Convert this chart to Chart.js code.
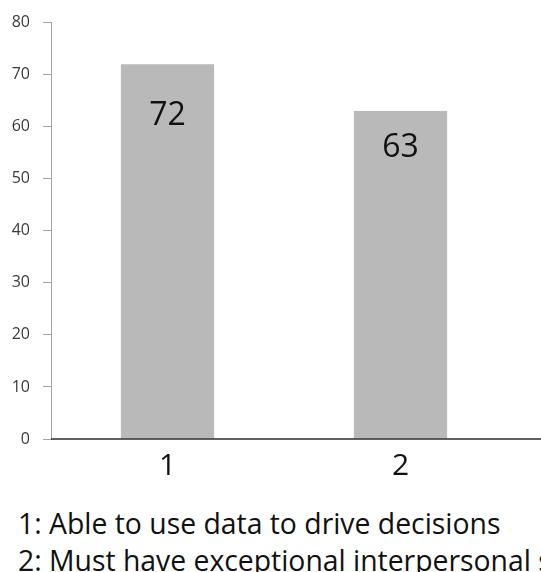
<!DOCTYPE html>
<html>
<head>
<meta charset="utf-8">
<script src="https://cdn.jsdelivr.net/npm/chart.js@4/dist/chart.umd.min.js"></script>
<style>
  html, body { margin: 0; padding: 0; background: #fff; }
  #wrap { position: relative; width: 541px; height: 572px; overflow: hidden; }
  #chart { position: absolute; left: 0; top: 0; }
  .note {
    position: absolute; left: 18px; white-space: nowrap;
    font-family: "Open Sans", sans-serif; font-size: 30px; line-height: 37px;
    color: #111; transform: scaleX(0.945); transform-origin: left top;
  }
</style>
</head>
<body>
<div id="wrap">
  <canvas id="chart" width="541" height="490"></canvas>
  <div class="note" id="n1" style="top:504px"></div>
  <div class="note" id="n2" style="top:541px"></div>
</div>
<script>
// Categories and values
const categories = ["1", "2"];
const values = [72, 63];
const yTicks = [0, 10, 20, 30, 40, 50, 60, 70, 80];
const notes = [
  "1: Able to use data to drive decisions",
  "2: Must have exceptional interpersonal skills"
];

document.getElementById("n1").textContent = notes[0];
document.getElementById("n2").textContent = notes[1];

const FONT = '"Open Sans", sans-serif';

// Value labels drawn inside each bar, plus the baseline running to the edge
const barLabels = {
  id: "barLabels",
  afterDatasetsDraw(chart, args, opts) {
    const ctx = chart.ctx;
    const meta = chart.getDatasetMeta(0);
    ctx.save();
    ctx.font = opts.size + "px " + FONT;
    ctx.fillStyle = opts.color;
    ctx.textAlign = "center";
    ctx.textBaseline = "middle";
    meta.data.forEach((bar, i) => {
      ctx.fillText(String(values[i]), bar.x, bar.y + opts.offsets[i]);
    });
    ctx.restore();
  },
  afterDraw(chart) {
    const ctx = chart.ctx;
    const y = chart.scales.y.getPixelForValue(0);
    ctx.save();
    ctx.strokeStyle = "#2b2b2b";
    ctx.lineWidth = 1.5;
    ctx.beginPath();
    ctx.moveTo(chart.chartArea.left, y);
    ctx.lineTo(chart.width, y);
    ctx.stroke();
    ctx.restore();
  }
};

new Chart(document.getElementById("chart"), {
  type: "bar",
  data: {
    labels: categories,
    datasets: [{
      data: values,
      backgroundColor: "#b9b9b9",
      borderWidth: 0,
      categoryPercentage: 1.0,
      barPercentage: 0.4
    }]
  },
  options: {
    responsive: false,
    animation: false,
    events: [],
    layout: { padding: { left: 0, right: 24, top: 19, bottom: 0 } },
    plugins: {
      legend: { display: false },
      tooltip: { enabled: false },
      barLabels: { size: 32, color: "#111", offsets: [52, 37] }
    },
    scales: {
      x: {
        border: { display: false },
        grid: { display: false },
        ticks: { color: "#111", font: { family: FONT, size: 30 }, padding: 1 },
        afterFit(scale) { scale.height = 51; }
      },
      y: {
        min: 0,
        max: 80,
        afterBuildTicks(scale) { scale.ticks = yTicks.map(v => ({ value: v })); },
        border: { display: true, color: "#a6a6a6", width: 1 },
        grid: { drawOnChartArea: false, drawTicks: true, tickLength: 8, color: "#a6a6a6" },
        ticks: { color: "#3a3a3a", font: { family: FONT, size: 16 }, padding: 13 },
        afterFit(scale) { scale.width = 51; }
      }
    }
  },
  plugins: [barLabels]
});
</script>
</body>
</html>
